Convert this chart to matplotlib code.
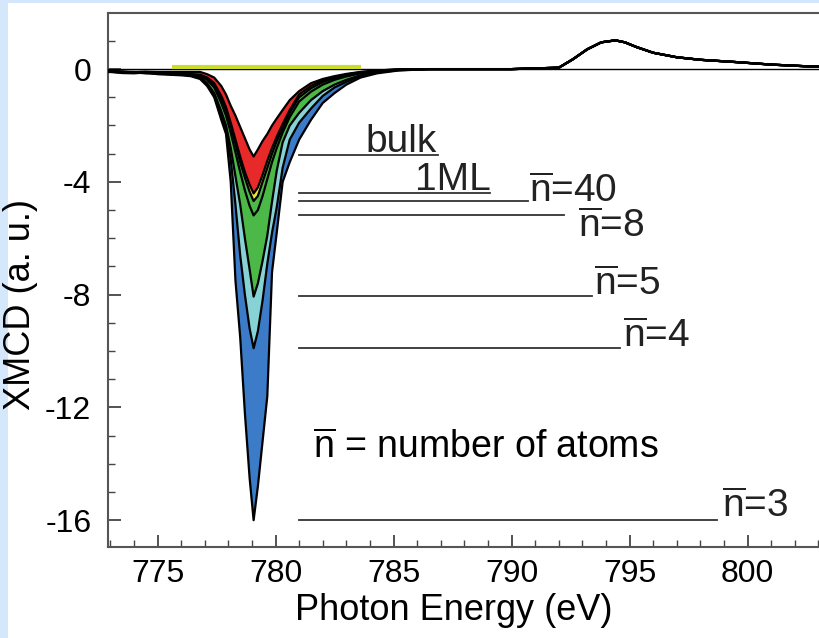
import matplotlib
matplotlib.use("Agg")
import matplotlib.pyplot as plt
from matplotlib.patches import Rectangle
from matplotlib.ticker import MultipleLocator

plt.rcParams['font.family'] = ['Liberation Sans', 'DejaVu Sans']
plt.rcParams['mathtext.fontset'] = 'custom'
plt.rcParams['mathtext.rm'] = 'Liberation Sans'
plt.rcParams['mathtext.it'] = 'Liberation Sans'
plt.rcParams['axes.unicode_minus'] = False

# ---- data ----
energy = [772.9, 773.5, 774.0, 774.5, 775.0, 775.5, 776.0, 776.4, 776.8, 777.1,
          777.4, 777.7, 777.9, 778.1, 778.3, 778.5, 778.7, 778.9, 779.07, 779.25,
          779.45, 779.65, 779.85, 780.05, 780.3, 780.6, 781.0, 781.5, 782.0, 782.5,
          783.0, 783.6, 784.3, 785.2, 786.5, 788.0, 790.0, 792.0, 792.6, 793.2,
          793.8, 794.4, 794.8, 795.3, 796.0, 797.0, 798.0, 799.5, 801.0, 802.5, 804.0]

tail = [0.0, 0.0, 0.0, 0.05, 0.35, 0.7, 0.95, 1.02, 0.95, 0.78, 0.58, 0.42, 0.33, 0.25, 0.16, 0.1, 0.07]

xmcd_n3 = [-0.08, -0.14, -0.15, -0.12, -0.18, -0.2, -0.22, -0.25, -0.35, -0.6,
           -1.0, -1.8, -2.3, -4.0, -7.5, -9.5, -12.2, -14.5, -16.0, -14.8,
           -13.2, -11.6, -7.2, -5.8, -4.0, -3.3, -2.5, -1.8, -1.2, -0.85,
           -0.55, -0.3, -0.15, -0.05] + tail
xmcd_n4 = [-0.1, -0.1, -0.12, -0.15, -0.15, -0.18, -0.2, -0.22, -0.3, -0.55,
           -0.9, -1.6, -2.2, -3.2, -4.8, -6.6, -8.0, -9.2, -9.9, -9.3,
           -8.2, -6.9, -5.8, -4.9, -3.5, -2.5, -1.9, -1.4, -0.95, -0.65,
           -0.45, -0.25, -0.12, -0.04] + tail
xmcd_n5 = [-0.1, -0.12, -0.1, -0.14, -0.16, -0.15, -0.2, -0.2, -0.28, -0.5,
           -0.85, -1.5, -2.0, -2.8, -3.8, -4.8, -6.0, -7.1, -8.07, -7.6,
           -6.8, -5.9, -4.7, -3.6, -2.6, -2.0, -1.55, -1.1, -0.78, -0.55,
           -0.38, -0.22, -0.1, -0.03] + tail
xmcd_n8 = [-0.09, -0.11, -0.13, -0.12, -0.15, -0.17, -0.18, -0.2, -0.25, -0.38,
           -0.65, -1.2, -1.65, -2.25, -2.95, -3.65, -4.3, -4.85, -5.19, -5.0,
           -4.5, -3.9, -3.3, -2.8, -2.25, -1.7, -1.15, -0.8, -0.55, -0.38,
           -0.26, -0.15, -0.07, -0.02] + tail
xmcd_n40 = [-0.08, -0.1, -0.12, -0.11, -0.14, -0.15, -0.17, -0.19, -0.22, -0.33,
            -0.55, -1.05, -1.45, -2.0, -2.65, -3.3, -3.85, -4.35, -4.68, -4.5,
            -4.0, -3.5, -3.0, -2.55, -2.1, -1.55, -1.0, -0.68, -0.46, -0.32,
            -0.22, -0.13, -0.06, -0.02] + tail
xmcd_1ml = [-0.08, -0.1, -0.11, -0.1, -0.13, -0.14, -0.16, -0.18, -0.2, -0.3,
            -0.5, -0.95, -1.35, -1.9, -2.5, -3.1, -3.65, -4.1, -4.41, -4.2,
            -3.75, -3.25, -2.8, -2.4, -1.95, -1.45, -0.9, -0.6, -0.4, -0.28,
            -0.19, -0.11, -0.05, -0.01] + tail
xmcd_bulk = [-0.06, -0.08, -0.1, -0.09, -0.1, -0.1, -0.1, -0.1, -0.1, -0.18,
             -0.3, -0.6, -0.9, -1.3, -1.65, -2.05, -2.45, -2.85, -3.1, -2.85,
             -2.55, -2.3, -2.0, -1.75, -1.45, -1.1, -0.78, -0.5, -0.35, -0.25,
             -0.17, -0.1, -0.05, -0.01] + tail

series = [xmcd_n3, xmcd_n4, xmcd_n5, xmcd_n8, xmcd_n40, xmcd_1ml, xmcd_bulk]
series_colors = ['#3b7bc8', '#86d2d4', '#4cb848', '#4cb848', '#f2e43a', '#e8292a', '#ffffff']

# peak-depth markers: label, depth, line end energy
marker_labels = ['bulk', '1ML', r'$\overline{\mathrm{n}}$=40', r'$\overline{\mathrm{n}}$=8',
                 r'$\overline{\mathrm{n}}$=5', r'$\overline{\mathrm{n}}$=4', r'$\overline{\mathrm{n}}$=3']
marker_depths = [-3.05, -4.41, -4.68, -5.19, -8.05, -9.9, -16.0]
marker_ends = [786.9, 789.1, 790.7, 792.2, 793.4, 794.6, 798.7]
marker_start = 781.0

yellow_line = [775.6, 783.6]

xticks = [775, 780, 785, 790, 795, 800]
yticks = [0, -4, -8, -12, -16]

# ---- figure ----
fig = plt.figure(figsize=(8.19, 6.38), dpi=100, facecolor='#d5e8fb')
fig.patches.append(Rectangle((8 / 819, 0), 1, (638 - 3) / 638, transform=fig.transFigure,
                             facecolor='white', edgecolor='none', zorder=-5))

ax = fig.add_axes([108 / 819, (638 - 547) / 638, 734 / 819, (547 - 13) / 638])
ax.set_zorder(2)
ax.set_facecolor('white')
ax.set_xlim(772.9, 804.0)
ax.set_ylim(-16.95, 1.99)

for i, (vals, col) in enumerate(zip(series, series_colors)):
    ax.fill_between(energy, 0, vals, facecolor=col, edgecolor='none', linewidth=0,
                    zorder=2 + 0.1 * i)
    ax.plot(energy, vals, color='black', lw=1.6, zorder=3 + 0.1 * i)

ax.axhline(0, color='black', lw=1.0, zorder=4)
ax.plot(yellow_line, [0.07, 0.07], color='#cbdc2a', lw=3, zorder=4.5,
        solid_capstyle='butt')

for lab, d, xe in zip(marker_labels, marker_depths, marker_ends):
    ax.plot([marker_start, xe], [d, d], color='#333333', lw=1.3, zorder=4.5)

fs_ann = 28
ax.text(783.8, -2.95, 'bulk', fontsize=fs_ann, ha='left', va='baseline', color='#222222')
ax.text(785.9, -4.3, '1ML', fontsize=fs_ann, ha='left', va='baseline', color='#222222')
ax.text(790.75, -4.7, marker_labels[2], fontsize=fs_ann, ha='left', va='baseline', color='#222222')
ax.text(792.8, -5.95, marker_labels[3], fontsize=fs_ann, ha='left', va='baseline', color='#222222')
ax.text(793.5, -8.0, marker_labels[4], fontsize=fs_ann, ha='left', va='baseline', color='#222222')
ax.text(794.7, -9.85, marker_labels[5], fontsize=fs_ann, ha='left', va='baseline', color='#222222')
ax.text(798.9, -15.9, marker_labels[6], fontsize=fs_ann, ha='left', va='baseline', color='#222222')
ax.text(781.6, -13.8, r'$\overline{\mathrm{n}}$ = number of atoms', fontsize=27,
        ha='left', va='baseline', color='black')

for s in ['left', 'top', 'bottom']:
    ax.spines[s].set_color('#555555')
    ax.spines[s].set_linewidth(1.5)
ax.spines['right'].set_visible(False)

ax.set_xticks(xticks)
ax.set_yticks(yticks)
ax.set_yticklabels([str(v) for v in yticks])
ax.xaxis.set_minor_locator(MultipleLocator(1))
ax.yaxis.set_minor_locator(MultipleLocator(1))
ax.tick_params(which='both', direction='in', top=False, right=False, color='#444444')
ax.tick_params(which='major', length=9, width=1.3, labelsize=23, pad=9)
ax.tick_params(which='minor', length=5, width=1.0)
ax.tick_params(axis='y', which='major', pad=12)

ax.set_xlabel('Photon Energy (eV)', fontsize=26)
ax.set_ylabel('XMCD (a. u.)', fontsize=26)
ax.xaxis.set_label_coords(346 / 734, -46 / 534)
ax.yaxis.set_label_coords(-70 / 734, 0.455)

fig.savefig('out.png', dpi=100, facecolor=fig.get_facecolor())
